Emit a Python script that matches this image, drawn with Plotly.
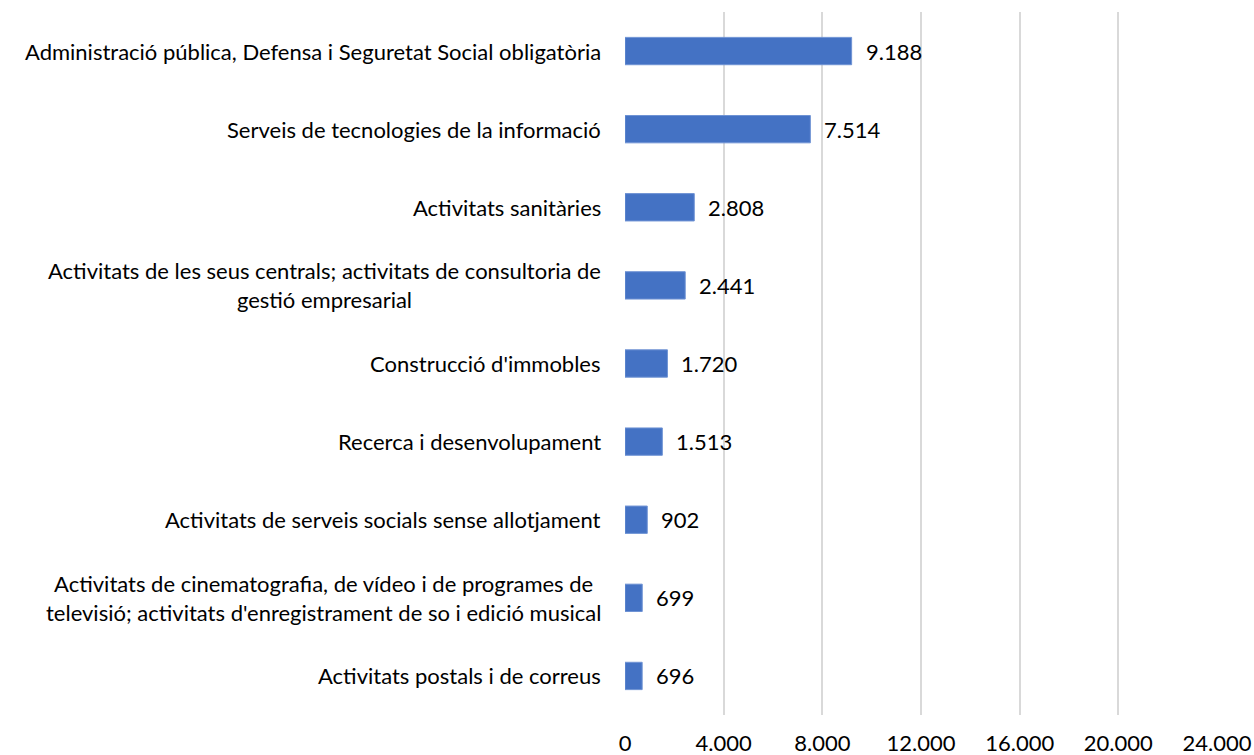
import plotly.graph_objects as go

# Sectors ordered top to bottom as displayed
categories = [
    "Administració pública, Defensa i Seguretat Social obligatòria",
    "Serveis de tecnologies de la informació",
    "Activitats sanitàries",
    "Activitats de les seus centrals; activitats de consultoria de<br>gestió empresarial",
    "Construcció d'immobles",
    "Recerca i desenvolupament",
    "Activitats de serveis socials sense allotjament",
    "Activitats de cinematografia, de vídeo i de programes de<br>televisió; activitats d'enregistrament de so i edició musical",
    "Activitats postals i de correus",
]
values = [9188, 7514, 2808, 2441, 1720, 1513, 902, 699, 696]
value_labels = ["9.188", "7.514", "2.808", "2.441", "1.720", "1.513", "902", "699", "696"]
tick_vals = [0, 4000, 8000, 12000, 16000, 20000, 24000]
tick_text = ["0", "4.000", "8.000", "12.000", "16.000", "20.000", "24.000"]

FONT = "Lato"
FSIZE = 22
BAR_COLOR = "#4472C4"

fig = go.Figure(
    go.Bar(
        x=values,
        y=categories,
        orientation="h",
        marker=dict(color=BAR_COLOR, line=dict(color="#6f93d4", width=1)),
        hoverinfo="skip",
    )
)

annotations = []
# value labels to the right of each bar
for cat, v, lab in zip(categories, values, value_labels):
    annotations.append(dict(
        x=v, y=cat, xref="x", yref="y", text=lab, showarrow=False,
        xanchor="left", yanchor="middle", xshift=12,
        font=dict(family=FONT, size=FSIZE, color="#000000"),
    ))
# category labels, centred line by line, right of the axis
for cat in categories:
    annotations.append(dict(
        x=0, y=cat, xref="paper", yref="y", text=cat, showarrow=False,
        xanchor="right", yanchor="middle", align="center", xshift=-22,
        font=dict(family=FONT, size=FSIZE, color="#000000"),
    ))

fig.update_layout(
    width=1254, height=755,
    margin=dict(l=625, r=37, t=12, b=40, autoexpand=False),
    paper_bgcolor="white", plot_bgcolor="white",
    showlegend=False,
    bargap=0.65,
    annotations=annotations,
    font=dict(family=FONT, size=FSIZE, color="#000000"),
)
fig.update_xaxes(
    range=[0, 24000], tickvals=tick_vals, ticktext=tick_text,
    showgrid=True, gridcolor="#d9d9d9", gridwidth=2,
    zeroline=False, showline=False, automargin=False,
    ticks="outside", ticklen=9, tickcolor="rgba(0,0,0,0)",
    tickfont=dict(family=FONT, size=FSIZE, color="#000000"),
)
fig.update_yaxes(
    categoryorder="array", categoryarray=categories[::-1],
    showticklabels=False, showgrid=False, zeroline=False, showline=False,
    automargin=False,
)

fig.write_html("out.html")
